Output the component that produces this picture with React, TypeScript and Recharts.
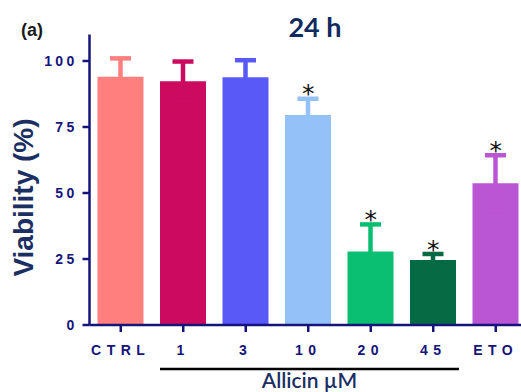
import React from 'react';
import { ComposedChart, Bar, ErrorBar, XAxis, YAxis, Scatter } from 'recharts';

const categories = ['CTRL', '1', '3', '10', '20', '45', 'ETO'];
const seriesKeys = ['ctrl', 'c1', 'c3', 'c10', 'c20', 'c45', 'eto'];
const viability = [94, 92.3, 93.8, 79.5, 27.8, 24.6, 53.7];
const errorSD = [7, 7.5, 6.5, 6.2, 10.3, 2.3, 10.6];
const significant = [false, false, false, true, true, true, true];
const barColors = ['#FF7F7F', '#CC0A60', '#5959F7', '#94C1F8', '#0BBF72', '#066B44', '#BA55D3'];
const yTicks = [0, 25, 50, 75, 100];

const data = categories.map((name, i) => {
  const row: any = { name, sig: significant[i] };
  row[seriesKeys[i]] = viability[i];
  row[seriesKeys[i] + '_e'] = errorSD[i];
  row.star = significant[i] ? viability[i] + errorSD[i] : null;
  return row;
});

const NAVY = '#14147A';
const TICK_FONT = '"Liberation Sans", Arial, sans-serif';

const StarShape = (p: any) => {
  if (!p.payload || !p.payload.sig || p.cy == null) return <g />;
  return (
    <text x={p.cx} y={p.cy + 3.6} textAnchor="middle" fontFamily='"DejaVu Sans", sans-serif' fontSize={25} fill="#111">
      *
    </text>
  );
};

const BracketLabel = (props: any) => {
  const vb = props.viewBox || {};
  const band = vb.width / categories.length;
  const x1 = vb.x + band + 8;
  const x2 = vb.x + band * 6 - 5.5;
  return (
    <g>
      <line x1={x1} x2={x2} y1={vb.y + 44} y2={vb.y + 44} stroke="#000" strokeWidth={2.5} />
      <text x={(x1 + x2) / 2} y={vb.y + 63} textAnchor="middle" fontFamily="Lato, sans-serif" fontWeight={600} fontSize={21} fill="#1B2F63">
        Allicin µM
      </text>
    </g>
  );
};

const YLabel = () => (
  <text x={33} y={197.5} transform="rotate(-90 33 197.5)" textAnchor="middle" fontFamily={TICK_FONT} fontWeight={700} fontSize={28} fill="#1B2F63">
    Viability (%)
  </text>
);

export default function App() {
  return (
    <div style={{ position: 'absolute', left: 0, top: 0, width: 521, height: 392, overflow: 'hidden', background: '#fff' }}>
      <ComposedChart width={530} height={392} data={data} margin={{ top: 34.6, right: 3, bottom: 37, left: 0 }}>
        <XAxis
          dataKey="name"
          type="category"
          interval={0}
          height={30}
          tickSize={7}
          tickMargin={13.5}
          stroke={NAVY}
          axisLine={{ stroke: NAVY, strokeWidth: 2.5 }}
          tickLine={{ stroke: NAVY, strokeWidth: 2.5 }}
          tick={{ fill: NAVY, fontFamily: TICK_FONT, fontWeight: 700, fontSize: 14, letterSpacing: 5.5 }}
          label={{ content: BracketLabel }}
        />
        <YAxis
          type="number"
          domain={[0, 110]}
          ticks={yTicks}
          width={89.5}
          tickSize={7}
          tickMargin={5}
          stroke={NAVY}
          axisLine={{ stroke: NAVY, strokeWidth: 2.5 }}
          tickLine={{ stroke: NAVY, strokeWidth: 2.5 }}
          tick={{ fill: NAVY, fontFamily: TICK_FONT, fontWeight: 700, fontSize: 14, letterSpacing: 3.3 }}
          label={{ content: YLabel }}
        />
        {seriesKeys.map((k, i) => (
          <Bar key={k} dataKey={k} stackId="s" fill={barColors[i]} barSize={46} isAnimationActive={false}>
            <ErrorBar dataKey={k + '_e'} direction="y" width={10.5} strokeWidth={4.5} stroke={barColors[i]} />
          </Bar>
        ))}
        <Scatter dataKey="star" shape={StarShape} isAnimationActive={false} />
        <text x={315} y={37} textAnchor="middle" fontFamily="Lato, sans-serif" fontWeight={700} fontSize={27} fill="#0E2A5E">
          24 h
        </text>
        <text x={21} y={36} fontFamily={TICK_FONT} fontWeight={700} fontSize={18} fill="#1A1A1A">
          (a)
        </text>
      </ComposedChart>
    </div>
  );
}
